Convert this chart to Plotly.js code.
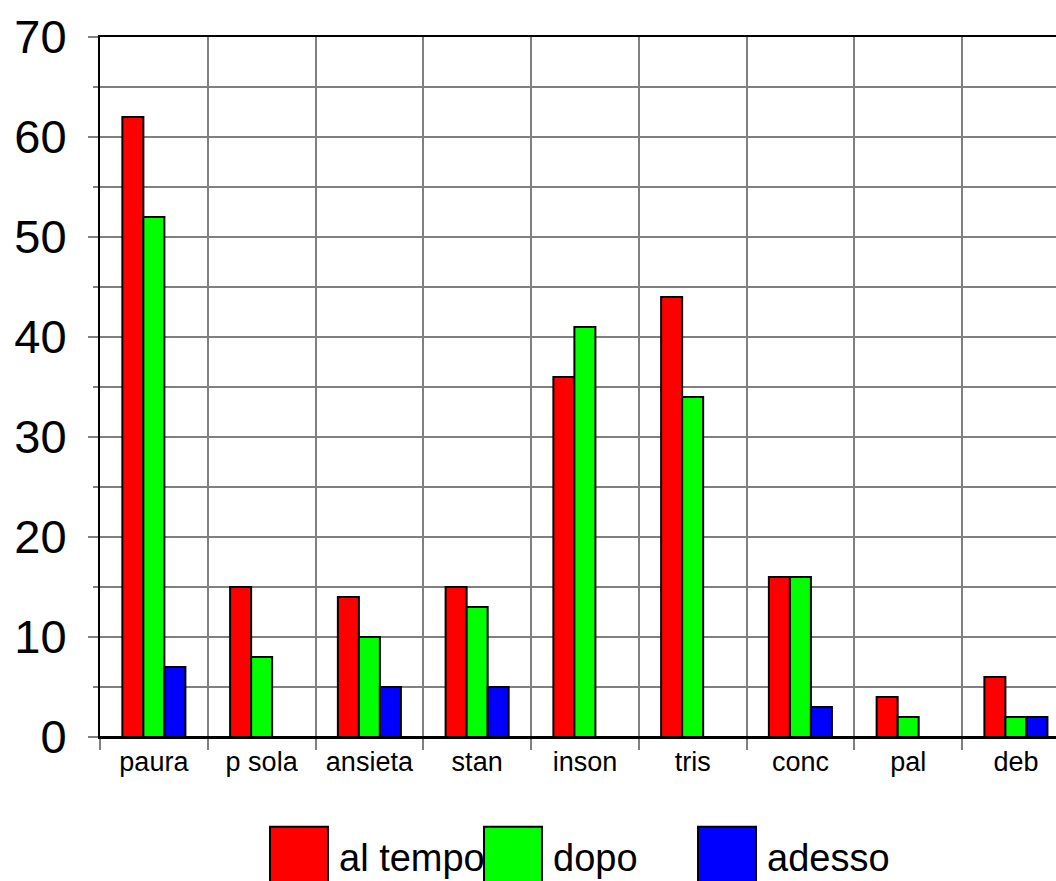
<!DOCTYPE html>
<html>
<head>
<meta charset="utf-8">
<script src="https://cdn.plot.ly/plotly-3.0.1.min.js"></script>
<style>
  html, body { margin: 0; padding: 0; overflow: hidden; background: #fff; }
  #chart { width: 1056px; height: 881px; }
</style>
</head>
<body>
<div id="chart"></div>
<script>
const categories = ["paura", "p sola", "ansieta", "stan", "inson", "tris", "conc", "pal", "deb"];
const seriesNames = ["al tempo", "dopo", "adesso"];
const alTempo = [62, 15, 14, 15, 36, 44, 16, 4, 6];
const dopo    = [52,  8, 10, 13, 41, 34, 16, 2, 2];
const adesso  = [ 7,  0,  5,  5,  0,  0,  3, 0, 2];
const yTickVals = [0, 10, 20, 30, 40, 50, 60, 70];

const colors = ["#ff0000", "#00ff00", "#0000ff"];
const values = [alTempo, dopo, adesso];

const data = values.map(function (v, i) {
  return {
    type: "bar",
    name: seriesNames[i],
    x: categories,
    y: v,
    marker: { color: colors[i], line: { color: "#000000", width: 2 } },
    hoverinfo: "none"
  };
});

const layout = {
  width: 1056,
  height: 881,
  margin: { l: 100, r: 0, t: 37, b: 144, pad: 0 },
  paper_bgcolor: "#ffffff",
  plot_bgcolor: "#ffffff",
  font: { family: "Liberation Sans, Arial, sans-serif", color: "#000000" },
  barmode: "group",
  bargap: 0.415,
  bargroupgap: 0,
  showlegend: true,
  legend: {
    orientation: "h",
    xref: "container",
    yref: "container",
    x: 299 / 1056,
    xanchor: "left",
    y: (881 - 856) / 881,
    yanchor: "middle",
    font: { size: 38, color: "#000000" },
    itemwidth: 30,
    entrywidth: 169,
    entrywidthmode: "pixels",
    bgcolor: "rgba(0,0,0,0)",
    traceorder: "normal"
  },
  xaxis: {
    type: "category",
    range: [-0.5, 8.372],
    tickson: "boundaries",
    ticks: "outside",
    ticklen: 11,
    tickwidth: 2,
    tickcolor: "#808080",
    showgrid: true,
    gridcolor: "#808080",
    gridwidth: 2,
    showline: true,
    linecolor: "#000000",
    linewidth: 2,
    mirror: true,
    tickfont: { size: 27, color: "#000000" },
    fixedrange: true
  },
  yaxis: {
    range: [0, 70],
    tickmode: "array",
    tickvals: yTickVals,
    ticktext: yTickVals.map(String),
    ticks: "outside",
    ticklen: 10,
    tickwidth: 2,
    tickcolor: "#808080",
    ticklabelstandoff: 12,
    showgrid: true,
    gridcolor: "#808080",
    gridwidth: 2,
    zeroline: true,
    zerolinecolor: "#000000",
    zerolinewidth: 2,
    showline: true,
    linecolor: "#000000",
    linewidth: 2,
    tickfont: { size: 47, color: "#000000" },
    minor: {
      dtick: 5,
      tick0: 0,
      showgrid: true,
      gridcolor: "#808080",
      gridwidth: 2,
      ticks: "outside",
      ticklen: 5,
      tickwidth: 2,
      tickcolor: "#808080"
    },
    fixedrange: true
  }
};

Plotly.newPlot("chart", data, layout, { staticPlot: true, displayModeBar: false }).then(function (gd) {
  gd.querySelectorAll(".legend .legendpoints path").forEach(function (p) {
    p.setAttribute("transform", "scale(4.83)");
    p.style.vectorEffect = "non-scaling-stroke";
    p.style.strokeWidth = "2px";
  });
  gd.querySelectorAll(".legend .scrollbox").forEach(function (s) {
    s.removeAttribute("clip-path");
  });
  gd.querySelectorAll(".legend").forEach(function (s) {
    s.style.overflow = "visible";
  });
});
</script>
</body>
</html>
